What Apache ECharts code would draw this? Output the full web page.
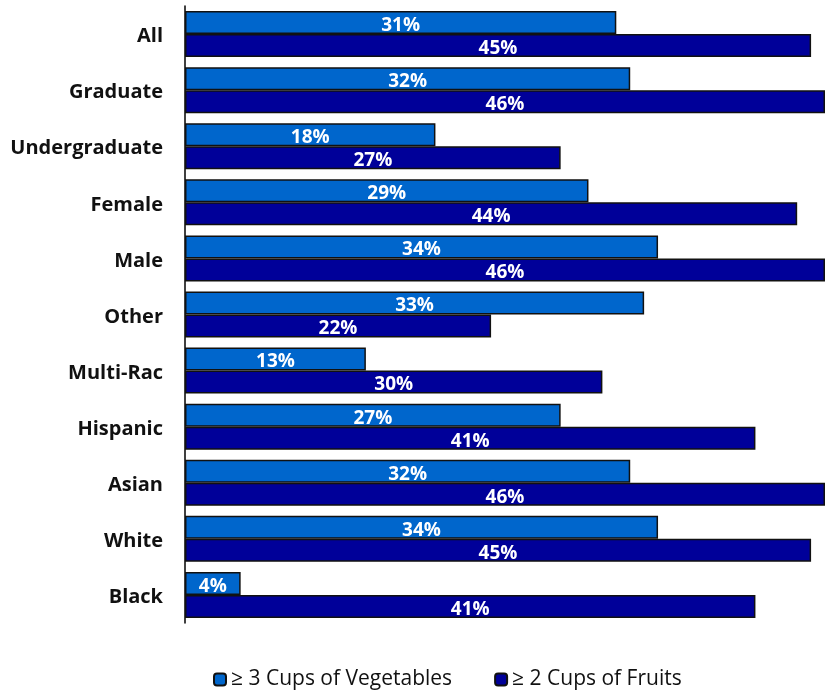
<!DOCTYPE html>
<html>
<head>
<meta charset="utf-8">
<script src="https://cdn.jsdelivr.net/npm/echarts@6/dist/echarts.min.js"></script>
<style>html,body{margin:0;padding:0;background:#fff}#c{width:832px;height:690px}</style>
</head>
<body>
<div id="c"></div>
<script>
var categories = ['All','Graduate','Undergraduate','Female','Male','Other','Multi-Rac','Hispanic','Asian','White','Black'];
var vegValues = [31,32,18,29,34,33,13,27,32,34,4];
var fruitValues = [45,46,27,44,46,22,30,41,46,45,41];
var seriesNames = ['\u2265 3 Cups of Vegetables','\u2265 2 Cups of Fruits'];

var chart = echarts.init(document.getElementById('c'), null, {renderer:'canvas'});
var labelStyle = {
  show:true, position:'inside', color:'#fff', fontWeight:'bold', fontSize:19,
  fontFamily:'Open Sans', formatter:'{c}%', offset:[0,3]
};
chart.setOption({
  animation:false,
  grid:{left:185, right:7, top:6, bottom:67, containLabel:false},
  legend:{
    bottom:0, left:213, padding:0, itemWidth:12, itemHeight:12, itemGap:42,
    textStyle:{fontSize:21, fontFamily:'Open Sans', color:'#111'},
    data:seriesNames
  },
  xAxis:{type:'value', min:0, max:46, show:false, splitLine:{show:false}},
  yAxis:{
    type:'category', data:categories, inverse:true,
    axisLine:{show:true, lineStyle:{color:'#000', width:1.5}},
    axisTick:{show:false},
    axisLabel:{
      margin:22,
      formatter:function(v){ return '{a|' + v + '}'; },
      rich:{a:{fontSize:20, fontWeight:'bold', color:'#111', fontFamily:'Open Sans', padding:[5,0,0,0]}}
    }
  },
  series:[
    {name:seriesNames[0], type:'bar', data:vegValues, barGap:'0%', barCategoryGap:'18%',
     itemStyle:{color:'#0066CC', borderColor:'#111', borderWidth:1.5}, label:labelStyle},
    {name:seriesNames[1], type:'bar', data:fruitValues,
     itemStyle:{color:'#000099', borderColor:'#111', borderWidth:1.5}, label:labelStyle}
  ]
});
</script>
</body>
</html>
